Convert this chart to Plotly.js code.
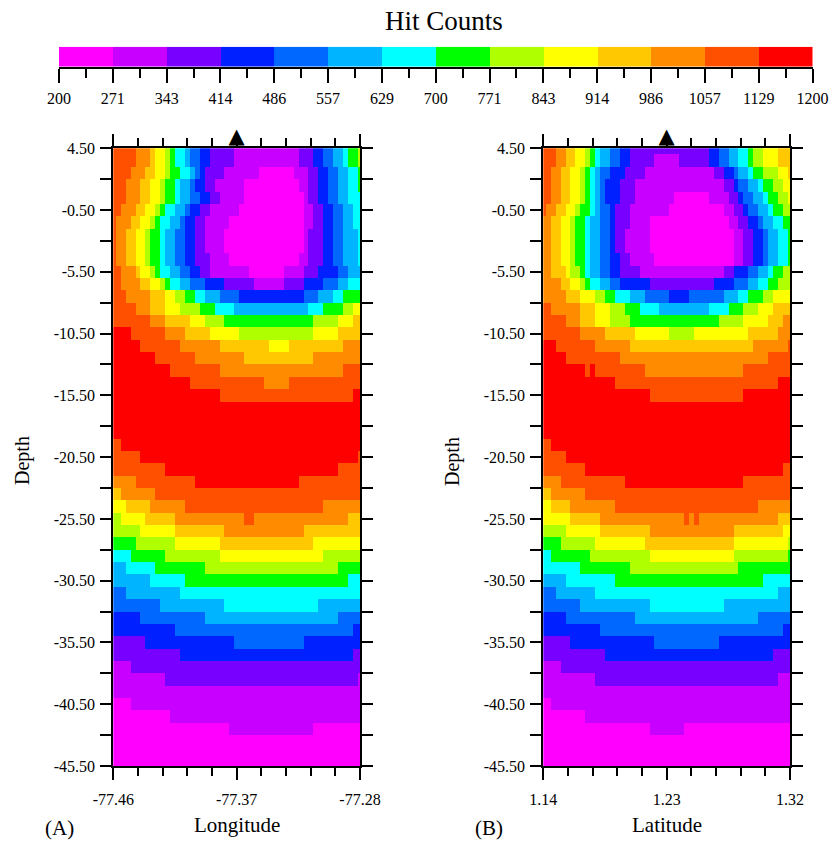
<!DOCTYPE html>
<html><head><meta charset="utf-8">
<script src="https://cdn.plot.ly/plotly-3.0.1.min.js"></script>
<style>html,body{margin:0;padding:0;background:#fff}#chart{width:834px;height:843px}</style>
</head><body><div id="chart"></div>
<script>
// ---- data ----
const binLabels = ['200','271','343','414','486','557','629','700','771','843','914','986','1057','1129','1200'];
const binColors = ['#FF00FF','#C800FF','#7800FF','#0020FF','#0068FF','#00B4FF','#00FFFF','#00FF00','#B0FF00','#FFFF00','#FFC800','#FF8C00','#FF5000','#FF0000'];
const countMin = 200, countMax = 1200;

const lonRange = [-77.46, -77.28];
const latRange = [1.14, 1.32];
const lonTicks = [-77.46, -77.37, -77.28];
const lonLabels = ['-77.46', '-77.37', '-77.28'];
const latTicks = [1.14, 1.23, 1.32];
const latLabels = ['1.14', '1.23', '1.32'];
const depthTicks = [4.5, -0.5, -5.5, -10.5, -15.5, -20.5, -25.5, -30.5, -35.5, -40.5, -45.5];
const depthLabels = ['4.50','-0.50','-5.50','-10.50','-15.50','-20.50','-25.50','-30.50','-35.50','-40.50','-45.50'];
const depthRange = [-45.5, 4.5];
const gridStepLon = 0.0036, gridStepLat = 0.0036, gridStepDepth = -1;

const stationLon = [-77.37], stationLat = [1.23], stationDepth = [4.5];

// rows of hit-count classes (class code + run length), from depth 4.5 (top) down to -45.5
const longitudeRows = [
"c5 b3 a1 92 81 71 62 51 42 32 25 113 23 32 42 52 61 72 81",
"c5 b3 a1 92 81 71 62 51 42 32 25 113 23 32 42 52 61 72 81",
"c4 b3 a2 92 81 72 62 51 41 31 24 17 07 13 22 32 42 52 62 71",
"c3 b3 a2 92 81 72 61 52 41 32 22 16 011 12 22 32 42 52 62 71",
"c3 b3 a2 92 81 72 61 52 42 32 22 15 012 11 22 32 42 52 63",
"c2 b3 a2 92 81 71 62 52 41 32 22 16 013 12 22 32 42 52 62",
"c1 b3 a2 92 81 71 62 52 41 32 22 15 015 12 22 32 42 52 62",
"c1 b2 a2 92 81 72 61 52 42 32 22 14 016 11 23 32 42 53 61",
"c1 b2 a2 92 81 72 61 52 42 32 22 14 016 11 23 32 42 53 61",
"c1 b2 a2 92 81 72 61 52 42 32 23 14 014 12 23 32 42 53 61",
"c2 b3 a1 92 81 71 62 52 42 32 22 18 07 14 23 34 42 53",
"c2 b4 a2 92 81 71 62 52 43 34 26 16 24 34 43 52 63",
"c3 b5 a3 92 82 72 62 53 44 313 43 53 62 74",
"c5 b3 a3 93 84 73 64 515 63 74 82 92",
"c8 b3 a5 93 84 718 85 93 a2",
"d4 c7 b4 a5 96 815 95 a5",
"d6 c8 b8 a10 94 a11 b4",
"d9 c8 b10 a14 b10",
"d12 c10 b25 c4",
"d16 c15 b5 c15",
"d22 c27 d2",
"d51",
"d51",
"d51",
"c2 d49",
"c6 d44 c1",
"c11 d35 c5",
"b5 c12 d21 c13",
"a2 b7 c42",
"93 a5 b7 c28 b8",
"82 95 a6 b14 c2 b19 a3",
"86 97 a10 b16 a12",
"75 88 99 a19 910",
"64 77 811 921 88",
"53 66 710 827 75",
"58 67 733 63",
"43 511 637",
"410 513 619 59",
"36 413 527 45",
"313 436 32",
"27 318 414 312",
"214 335 22",
"14 247",
"111 239 11",
"151",
"04 147",
"012 139",
"024 117 010",
"051",
"051",
"051"
];

const latitudeRows = [
"c3 b2 a2 92 81 71 61 52 42 32 216 32 42 52 62 71 82 93 a3",
"c3 b2 a2 92 81 71 61 52 42 32 25 15 26 32 42 52 62 71 82 93 a3",
"c2 b2 a2 92 81 71 61 51 42 33 24 114 22 32 41 52 61 72 83 92 a1",
"c2 b2 a2 92 81 71 61 51 41 33 23 118 22 31 42 52 61 72 82 92",
"c2 b2 a2 92 81 71 61 51 41 33 23 18 07 14 22 31 42 52 61 72 82 91",
"c1 b2 a2 92 81 72 61 51 42 31 23 18 011 12 22 31 42 52 61 72 82",
"b2 a2 92 81 72 61 52 42 31 23 14 016 12 22 32 41 52 62 72",
"b2 a2 92 81 72 61 52 42 31 22 15 017 12 22 32 41 52 62 71",
"b2 a2 92 81 72 61 52 42 31 22 15 017 12 22 32 41 52 62 71",
"b2 a2 92 81 72 61 52 42 32 22 15 016 12 22 32 41 52 62 71",
"b2 a3 91 82 71 61 52 42 32 24 117 22 33 42 52 61 72 82",
"b4 a2 92 81 71 62 52 42 36 213 34 43 52 62 72 83",
"b5 a3 93 82 72 63 53 45 34 47 53 62 73 82 94",
"c2 b6 a3 93 83 73 64 510 64 73 83 93 a4",
"c5 b3 a3 93 84 718 85 95 a3 b2",
"c8 b5 a6 97 85 911 a6 b3",
"d3 c8 b7 a25 b7 c1",
"d5 c11 b30 c5",
"d9 c1 d1 c10 b20 c10",
"d15 c33 d3",
"d22 c19 d10",
"d51",
"d51",
"d51",
"c2 d49",
"c5 d46",
"c9 d40 c2",
"b4 c13 d24 c10",
"a2 b7 c42",
"92 a4 b9 c29 b7",
"96 a6 b17 c1 b1 c1 b16 a3",
"85 97 a10 b17 a10 92",
"74 87 910 a18 911 81",
"62 78 812 917 811 71",
"68 710 822 711",
"55 610 730 66",
"43 58 637 53",
"48 514 615 514",
"35 414 525 47",
"312 437 32",
"26 317 413 315",
"213 334 24",
"14 247",
"111 237 13",
"151",
"02 149",
"09 142",
"022 17 022",
"051",
"051",
"051"
];

// ---- build ----
const nBins = binColors.length;
const binWidth = (countMax - countMin) / nBins;
function decodeRows(rows) {
  return rows.map(r => {
    const out = [];
    r.trim().split(/\s+/).forEach(tok => {
      const cls = parseInt(tok[0], 16);
      const n = parseInt(tok.slice(1), 10);
      for (let i = 0; i < n; i++) out.push(countMin + (cls + 0.5) * binWidth);
    });
    return out;
  });
}
const zLon = decodeRows(longitudeRows);
const zLat = decodeRows(latitudeRows);

const colorscale = [];
binColors.forEach((c, k) => { colorscale.push([k / nBins, c]); colorscale.push([(k + 1) / nBins, c]); });

const binEdges = binLabels.map((_, k) => countMin + k * binWidth);
const binMids = binColors.map((_, k) => countMin + (k + 0.5) * binWidth);

const serif = '"Liberation Serif", "Times New Roman", Times, serif';
const black = '#000';
const markFont = {family:'"DejaVu Sans", sans-serif', size:21, color:black};

const traces = [
  {type:'heatmap', z:zLon, x0:lonRange[0], dx:gridStepLon, y0:depthRange[1], dy:gridStepDepth,
   colorscale:colorscale, zmin:countMin, zmax:countMax, showscale:false, xaxis:'x', yaxis:'y', hoverinfo:'skip', zsmooth:false},
  {type:'heatmap', z:zLat, x0:latRange[0], dx:gridStepLat, y0:depthRange[1], dy:gridStepDepth,
   colorscale:colorscale, zmin:countMin, zmax:countMax, showscale:false, xaxis:'x2', yaxis:'y2', hoverinfo:'skip', zsmooth:false},
  {type:'heatmap', z:[binMids], x:binEdges, y:[0,1],
   colorscale:colorscale, zmin:countMin, zmax:countMax, showscale:false, xaxis:'x3', yaxis:'y3', hoverinfo:'skip'},
  {type:'scatter', mode:'text', x:stationLon, y:stationDepth, xaxis:'x', yaxis:'y', cliponaxis:false,
   text:['\u25B2'], textposition:'top center', textfont:markFont, hoverinfo:'skip'},
  {type:'scatter', mode:'text', x:stationLat, y:stationDepth, xaxis:'x2', yaxis:'y2', cliponaxis:false,
   text:['\u25B2'], textposition:'top center', textfont:markFont, hoverinfo:'skip'}
];

const tickFont = {family:serif, size:16, color:black};
const frame = {showline:true, linecolor:black, linewidth:2, mirror:'ticks', ticks:'outside', tickcolor:black,
  tickwidth:2, showgrid:false, zeroline:false, tickfont:tickFont, fixedrange:true};

function xAx(domain, range, ticks, labels, anchor) {
  return Object.assign({}, frame, {domain:domain, range:range, anchor:anchor, tickvals:ticks, ticktext:labels,
    ticklen:12, ticklabelstandoff:6,
    minor:{tickmode:'linear', tick0:range[0], dtick:(range[1]-range[0])/10, ticklen:8, tickwidth:2, tickcolor:black, ticks:'outside'}});
}
function yAx(domain, anchor) {
  return Object.assign({}, frame, {domain:domain, range:depthRange, anchor:anchor, tickvals:depthTicks, ticktext:depthLabels,
    ticklen:11, ticklabelstandoff:2,
    minor:{tickmode:'linear', tick0:depthTicks[0], dtick:2.5, ticklen:11, tickwidth:2, tickcolor:black, ticks:'outside'}});
}

const W = 834, H = 843;
const yDom = [1 - 766/H, 1 - 148.3/H];
function label(text, px, py, size, angle) {
  return {text:text, x:px/W, y:1 - py/H, xref:'paper', yref:'paper', xanchor:'center', yanchor:'middle',
    showarrow:false, textangle:angle || 0, font:{family:serif, size:size, color:black}};
}
const layout = {
  width:W, height:H, margin:{l:0, r:0, t:0, b:0}, paper_bgcolor:'#fff', plot_bgcolor:'#fff', showlegend:false,
  font:{family:serif, color:black},
  title:{text:'Hit Counts', x:444/W, xanchor:'center', y:1 - 21/H, yanchor:'middle', font:{family:serif, size:27, color:black}},
  xaxis: xAx([113.3/W, 360/W], lonRange, lonTicks, lonLabels, 'y'),
  yaxis: yAx(yDom, 'x'),
  xaxis2: xAx([543.3/W, 790/W], latRange, latTicks, latLabels, 'y2'),
  yaxis2: yAx(yDom, 'x2'),
  xaxis3: {domain:[59/W, 812.5/W], range:[countMin, countMax], anchor:'y3', showline:true, linecolor:black, linewidth:2,
    ticks:'outside', ticklen:14, tickwidth:2, tickcolor:black, tickvals:binEdges, ticktext:binLabels,
    tickfont:{family:serif, size:16, color:black}, ticklabelstandoff:2, showgrid:false, zeroline:false, fixedrange:true,
    minor:{tickvals:binMids, ticklen:9, tickwidth:2, tickcolor:black, ticks:'outside'}},
  yaxis3: {domain:[1 - 66.7/H, 1 - 46.7/H], range:[0,1], anchor:'x3', visible:false, fixedrange:true},
  annotations:[
    label('Depth', 22, 461, 20, -90),
    label('Depth', 452, 461, 20, -90),
    label('Longitude', 237, 825, 21),
    label('Latitude', 667, 825, 21),
    label('(A)', 59, 828, 21),
    label('(B)', 489, 828, 21)
  ]
};

Plotly.newPlot('chart', traces, layout, {staticPlot:true, displayModeBar:false});
</script>
</body></html>
